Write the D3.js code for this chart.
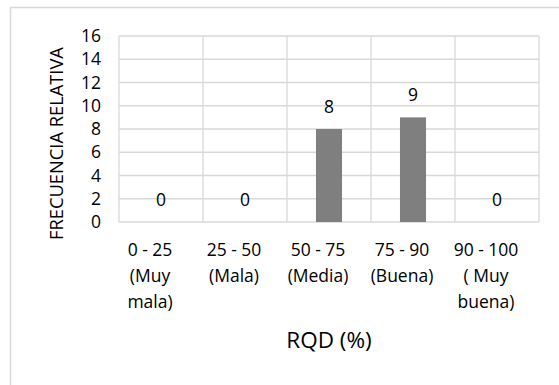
<!DOCTYPE html>
<html>
<head>
<meta charset="utf-8">
<script src="https://cdn.jsdelivr.net/npm/d3@7"></script>
<style>
  body { margin: 0; background: #fff; }
  text { font-family: "Open Sans", Lato, sans-serif; fill: #000; }
</style>
</head>
<body>
<svg id="chart"></svg>
<script>
// data
const categories = ["0 - 25\n(Muy\nmala)", "25 - 50\n(Mala)", "50 - 75\n(Media)", "75 - 90\n(Buena)", "90 - 100\n( Muy\nbuena)"];
const values = [0, 0, 8, 9, 0];
const yTicks = [0, 2, 4, 6, 8, 10, 12, 14, 16];
const xTitle = "RQD (%)";
const yTitle = "FRECUENCIA RELATIVA";

const width = 559, height = 385;
const plot = { left: 119, right: 539, top: 36, bottom: 222 };
const font = "'Open Sans', Lato, sans-serif";

const svg = d3.select("#chart")
    .attr("width", width)
    .attr("height", height);

// chart area border
svg.append("rect")
    .attr("x", 10.5)
    .attr("y", 7.5)
    .attr("width", width + 20)
    .attr("height", height + 20)
    .attr("fill", "#fff")
    .attr("stroke", "#d9d9d9")
    .attr("stroke-width", 1.5);

const x = d3.scaleBand()
    .domain(categories)
    .range([plot.left, plot.right])
    .padding(0);

const y = d3.scaleLinear()
    .domain([0, 16])
    .range([plot.bottom, plot.top]);

const g = svg.append("g");

// horizontal gridlines
g.selectAll(".hgrid")
    .data(yTicks)
    .enter()
    .append("line")
    .attr("x1", plot.left)
    .attr("x2", plot.right)
    .attr("y1", d => y(d))
    .attr("y2", d => y(d))
    .attr("stroke", "#d9d9d9")
    .attr("stroke-width", 1.3);

// vertical gridlines at category boundaries
const bounds = categories.map(c => x(c)).concat([plot.right]);
g.selectAll(".vgrid")
    .data(bounds)
    .enter()
    .append("line")
    .attr("x1", d => d)
    .attr("x2", d => d)
    .attr("y1", plot.top)
    .attr("y2", plot.bottom)
    .attr("stroke", "#d9d9d9")
    .attr("stroke-width", 1.3);

// bars
const barW = x.bandwidth() * 0.31;
g.selectAll(".bar")
    .data(values)
    .enter()
    .append("rect")
    .attr("class", "bar")
    .attr("x", (d, i) => x(categories[i]) + (x.bandwidth() - barW) / 2)
    .attr("y", d => y(d))
    .attr("width", barW)
    .attr("height", d => y(0) - y(d))
    .attr("fill", "#7f7f7f");

// value labels
g.selectAll(".val")
    .data(values)
    .enter()
    .append("text")
    .attr("x", (d, i) => x(categories[i]) + x.bandwidth() / 2)
    .attr("y", d => y(d) - 16)
    .attr("text-anchor", "middle")
    .attr("font-size", 17.5)
    .text(d => d);

// y axis tick labels
const yAxis = d3.axisLeft(y).tickValues(yTicks).tickSize(0).tickPadding(0);
const ya = svg.append("g")
    .attr("transform", `translate(101,0)`)
    .call(yAxis);
ya.select(".domain").remove();
ya.selectAll("text")
    .attr("font-size", 17.5)
    .attr("font-family", font)
    .attr("fill", "#000");

// x axis tick labels (wrapped lines)
const xl = svg.append("g");
categories.forEach(c => {
    const t = xl.append("text")
        .attr("text-anchor", "middle")
        .attr("font-size", 17.5)
        .attr("transform", `translate(${x(c) + x.bandwidth() / 2 - 11},256)`);
    c.split("\n").forEach((line, i) => {
        t.append("tspan")
            .attr("x", 0)
            .attr("y", i * 26)
            .text(line);
    });
});

// axis titles
svg.append("text")
    .attr("x", (plot.left + plot.right) / 2)
    .attr("y", 348)
    .attr("text-anchor", "middle")
    .attr("font-size", 22.5)
    .text(xTitle);

svg.append("text")
    .attr("transform", "translate(63,143.5) rotate(-90)")
    .attr("text-anchor", "middle")
    .attr("font-size", 18.3)
    .text(yTitle);
</script>
</body>
</html>
